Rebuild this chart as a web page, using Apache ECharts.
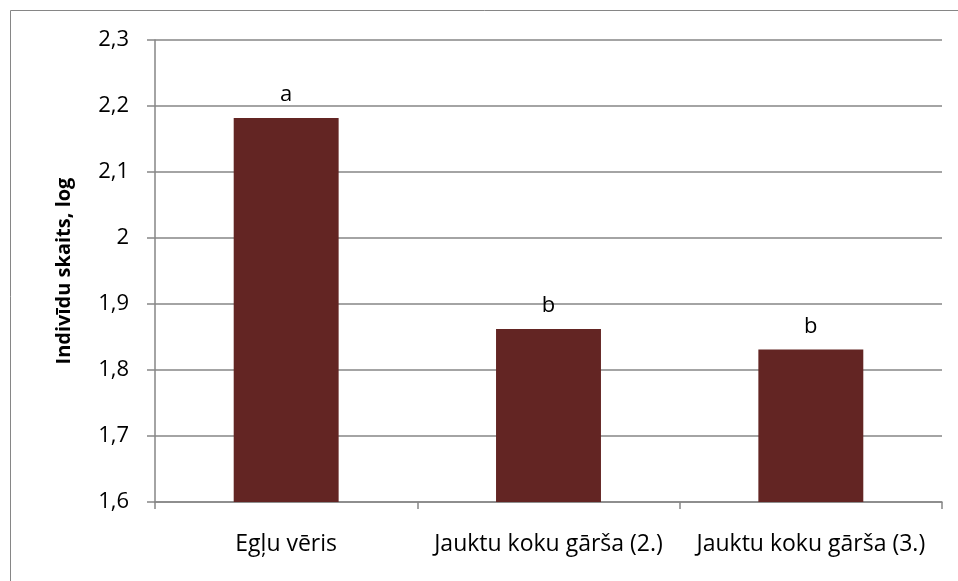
<!DOCTYPE html>
<html>
<head>
<meta charset="utf-8">
<script src="https://cdn.jsdelivr.net/npm/echarts@6/dist/echarts.min.js"></script>
<style>
  html, body { margin: 0; padding: 0; background: #fff; }
  #chart { width: 958px; height: 581px; }
</style>
</head>
<body>
<div id="chart"></div>
<script>
// kategorijas un vērtības
const categories = ['Egļu vēris', 'Jauktu koku gārša (2.)', 'Jauktu koku gārša (3.)']
const values = [2.182, 1.862, 1.831]
const groupLetters = ['a', 'b', 'b']
const yTicks = [1.6, 1.7, 1.8, 1.9, 2.0, 2.1, 2.2, 2.3]

const font = '"Open Sans", Lato, sans-serif'
const gray = '#868686'

const chart = echarts.init(document.getElementById('chart'))
chart.setOption({
  animation: false,
  graphic: [{
    type: 'rect',
    shape: { x: 10.5, y: 10.5, width: 980, height: 620 },
    style: { fill: 'none', stroke: gray, lineWidth: 1 }
  }],
  grid: {
    left: 155,
    right: 16,
    top: 40,
    bottom: 79
  },
  xAxis: {
    type: 'category',
    data: categories,
    axisLine: { lineStyle: { color: gray, width: 1.5 } },
    axisTick: { show: true, length: 7, lineStyle: { color: gray, width: 1.5 } },
    axisLabel: { color: '#000', fontFamily: font, fontSize: 23, margin: 31, interval: 0, hideOverlap: false }
  },
  yAxis: {
    type: 'value',
    min: 1.6,
    max: 2.3,
    interval: 0.1,
    name: 'Indivīdu skaits, log',
    nameLocation: 'middle',
    nameGap: 81,
    nameTextStyle: { color: '#000', fontFamily: font, fontSize: 20, fontWeight: 'bold' },
    axisLine: { show: true, lineStyle: { color: gray, width: 1.5 } },
    axisTick: { show: true, length: 8, lineStyle: { color: gray, width: 1.5 } },
    splitLine: { lineStyle: { color: gray, width: 1.5 } },
    axisLabel: {
      color: '#000',
      fontFamily: font,
      fontSize: 22,
      margin: 26,
      formatter: v => {
        const t = yTicks.find(x => Math.abs(x - v) < 1e-6)
        return t === undefined ? '' : String(+t.toFixed(1)).replace('.', ',')
      }
    }
  },
  series: [{
    type: 'bar',
    data: values,
    barWidth: '40%',
    itemStyle: { color: '#632523' },
    label: {
      show: true,
      position: 'top',
      distance: 12,
      color: '#000',
      fontFamily: font,
      fontSize: 22,
      formatter: p => groupLetters[p.dataIndex]
    }
  }]
})
</script>
</body>
</html>
